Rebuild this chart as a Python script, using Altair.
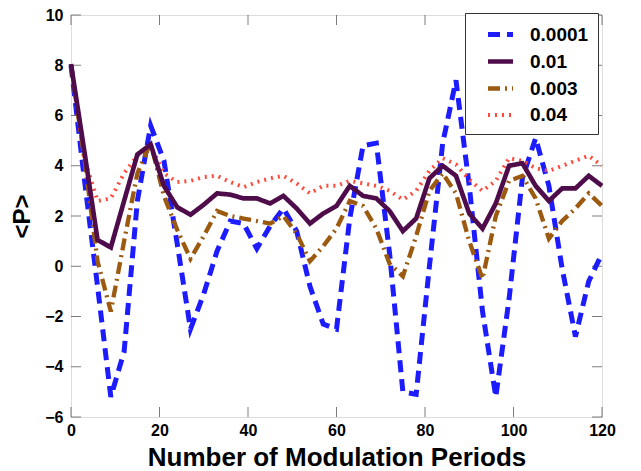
import altair as alt
import pandas as pd

periods = [0, 3, 6, 9, 12, 15, 18, 21, 24, 27, 30, 33, 36, 39, 42, 45, 48, 51, 54, 57, 60,
           63, 66, 69, 72, 75, 78, 81, 84, 87, 90, 93, 96, 99, 102, 105, 108, 111, 114, 117, 120]

p_0001 = [8.0, 3.5, -0.8, -5.2, -3.4, 2.6, 5.6, 4.2, 0.9, -2.5, -1.1, 0.6, 1.8, 1.7, 0.7, 1.6, 2.3,
          1.4, -0.8, -2.3, -2.5, 1.9, 4.8, 4.9, 0.5, -5.0, -5.1, 0.0, 4.9, 7.4, 3.2, -1.8, -5.2,
          -1.3, 3.5, 5.1, 3.2, -0.1, -2.8, -0.6, 0.5]
p_01 = [8.05, 4.6, 1.05, 0.75, 2.6, 4.45, 4.85, 3.2, 2.35, 2.05, 2.45, 2.9, 2.85, 2.7, 2.7, 2.5,
        2.8, 2.3, 1.7, 2.1, 2.4, 3.2, 2.8, 2.7, 2.2, 1.4, 1.9, 3.5, 4.0, 3.6, 2.1, 1.5, 2.5, 4.0,
        4.1, 3.2, 2.6, 3.1, 3.1, 3.6, 3.2]
p_003 = [8.0, 4.3, 0.2, -1.8, 1.0, 3.7, 4.9, 2.8, 1.45, 0.3, 1.2, 2.2, 2.0, 1.9, 1.8, 1.7, 2.0,
         1.3, 0.2, 0.8, 1.5, 2.6, 2.4, 1.5, 0.1, -0.4, 1.2, 3.0, 3.7, 2.9, 1.0, -0.5, 2.0, 3.4,
         3.6, 2.7, 1.1, 1.8, 2.3, 2.9, 2.4]
p_04 = [8.0, 4.3, 2.6, 2.7, 3.7, 4.4, 4.8, 3.7, 3.35, 3.4, 3.55, 3.6, 3.35, 3.15, 3.35, 3.5, 3.6,
        3.3, 2.9, 3.2, 3.2, 3.4, 3.3, 3.2, 3.0, 2.65, 3.0, 3.8, 4.3, 4.05, 3.45, 3.0, 3.4, 4.3,
        4.2, 3.9, 3.8, 4.0, 4.2, 4.4, 4.0]

labels = ["0.0001", "0.01", "0.003", "0.04"]
colors = ["#1c1cff", "#4e0c4a", "#9c5a10", "#ff4a3a"]
dashes = [[12, 7], [1, 0], [12, 5, 2, 5], [2, 5]]
widths = [5, 4, 4, 1.5]

x_ticks = [0, 20, 40, 60, 80, 100, 120]
y_ticks = [-6, -4, -2, 0, 2, 4, 6, 8, 10]

series = {"0.0001": p_0001, "0.01": p_01, "0.003": p_003, "0.04": p_04}
rows = []
for name, vals in series.items():
    for t, v in zip(periods, vals):
        rows.append({"t": t, "P": v, "series": name})
df = pd.DataFrame(rows)

W, H = 531, 402
FONT = "Liberation Sans"

xscale = alt.Scale(domain=[0, 120], nice=False)
yscale = alt.Scale(domain=[-6, 10], nice=False)

legend = alt.Legend(
    orient="none", legendX=394, legendY=-2, title=None,
    symbolType="M-1.25,0L1.25,0", symbolSize=400, symbolOffset=14,
    labelFont=FONT, labelFontSize=19, labelFontWeight="bold", labelColor="black",
    labelOffset=17, fillColor="white", strokeColor="#333333", padding=9,
    rowPadding=4, labelLimit=200,
)

enc = dict(
    x=alt.X("t:Q", scale=xscale, axis=alt.Axis(
        values=x_ticks, ticks=False, domain=False, grid=False,
        labelFont=FONT, labelFontSize=16, labelFontWeight="bold", labelColor="black",
        labelPadding=5, labelFlush=False,
        title="Number of Modulation Periods", titleFont=FONT, titleFontSize=26,
        titleFontWeight="bold", titleColor="black", titlePadding=6)),
    y=alt.Y("P:Q", scale=yscale, axis=alt.Axis(
        values=y_ticks, ticks=False, domain=False, grid=False,
        labelFont=FONT, labelFontSize=16, labelFontWeight="bold", labelColor="black",
        labelPadding=8, labelFlush=False,
        title="<P>", titleFont=FONT, titleFontSize=24, titleFontWeight="bold",
        titleColor="black", titlePadding=10)),
    color=alt.Color("series:N", scale=alt.Scale(domain=labels, range=colors), legend=legend),
    strokeDash=alt.StrokeDash("series:N", scale=alt.Scale(domain=labels, range=dashes), legend=legend),
    strokeWidth=alt.StrokeWidth("series:N", scale=alt.Scale(domain=labels, range=widths), legend=legend),
)

draw_order = ["0.0001", "0.04", "0.003", "0.01"]
layers = []
for name in draw_order:
    layers.append(
        alt.Chart(df).transform_filter(alt.datum.series == name)
        .mark_line(strokeCap="butt", strokeJoin="miter")
        .encode(**enc)
    )

xt = pd.DataFrame({"v": x_ticks})
yt = pd.DataFrame({"v": y_ticks})
tick_style = dict(color="#444444", thickness=1, size=10)
ticks = [
    alt.Chart(xt).mark_tick(orient="vertical", **tick_style).encode(
        x=alt.X("v:Q", scale=xscale), y=alt.value(H - 5)),
    alt.Chart(xt).mark_tick(orient="vertical", **tick_style).encode(
        x=alt.X("v:Q", scale=xscale), y=alt.value(5)),
    alt.Chart(yt).mark_tick(orient="horizontal", **tick_style).encode(
        y=alt.Y("v:Q", scale=yscale), x=alt.value(5)),
    alt.Chart(yt).mark_tick(orient="horizontal", **tick_style).encode(
        y=alt.Y("v:Q", scale=yscale), x=alt.value(W - 5)),
]

chart = alt.layer(*ticks, *layers).properties(
    width=W, height=H,
    autosize=alt.AutoSizeParams(type="none"),
    padding={"left": 63, "top": 7, "right": 30, "bottom": 56},
).configure_view(stroke="#444444", strokeWidth=1).configure(background="white")

chart.save("out.html", embed_options={"renderer": "svg", "actions": False})
